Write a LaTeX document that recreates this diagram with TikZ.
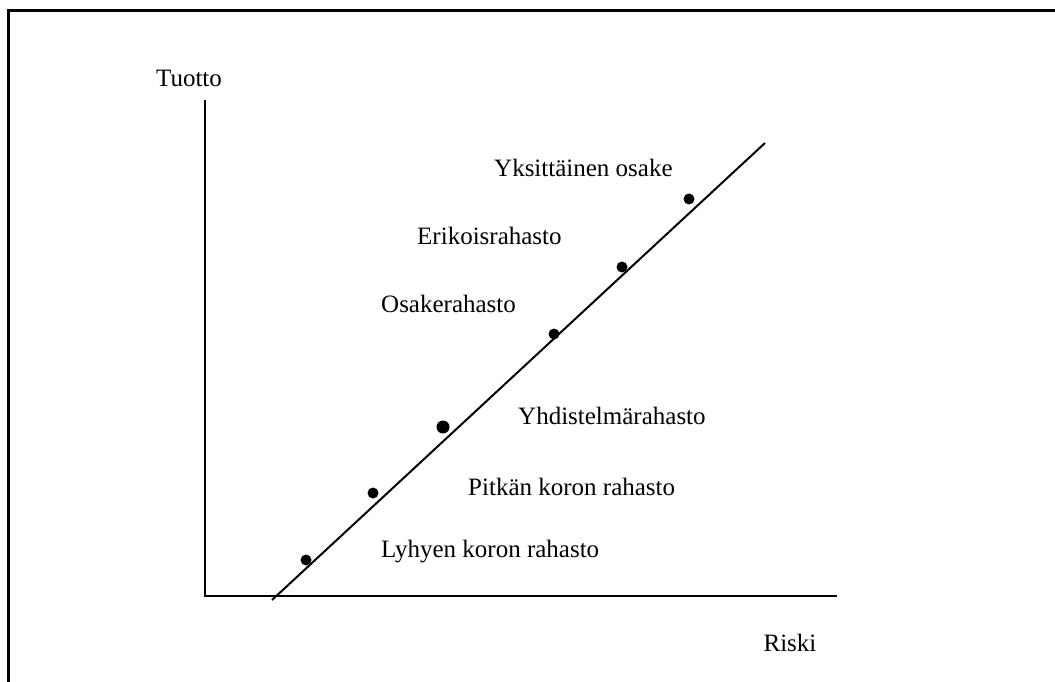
\documentclass[tikz,border=0pt]{standalone}
\usepackage{fontspec}
\setmainfont{Liberation Serif}
\begin{document}
\begin{tikzpicture}[x=1pt,y=-1pt,
  lbl/.style={font=\fontsize{25}{30}\selectfont, inner sep=0pt},
  pt/.style={circle, fill=black, inner sep=0pt, minimum size=11pt},
  ax/.style={line width=2pt}]
\useasboundingbox (0,0) rectangle (1055,682);
\draw[line width=3pt] (8,690) -- (8,11) -- (1060,11);
\coordinate (ytop) at (205,100);
\coordinate (o) at (205,596);
\coordinate (xend) at (837,596);
\draw[ax] (ytop) -- (o) -- (xend);
\coordinate (la) at (272,600);
\coordinate (lb) at (765,143);
\draw[ax] (la) -- (lb);
\node[pt] (p1) at (306,560) {};
\node[pt] (p2) at (373,493) {};
\node[pt, minimum size=13pt] (p3) at (443,427) {};
\node[pt] (p4) at (554,334) {};
\node[pt] (p5) at (622,267) {};
\node[pt] (p6) at (689,199) {};
\node[lbl] (tuotto) at (189,78) {Tuotto};
\node[lbl] (riski) at (790,643) {Riski};
\node[lbl, anchor=west] (t6) at (494,168) {Yksittäinen osake};
\node[lbl, anchor=west] (t5) at (417,236) {Erikoisrahasto};
\node[lbl, anchor=west] (t4) at (381,304) {Osakerahasto};
\node[lbl, anchor=west] (t3) at (518,416) {Yhdistelmärahasto};
\node[lbl, anchor=west] (t2) at (468,487) {Pitkän koron rahasto};
\node[lbl, anchor=west] (t1) at (381,552) {Lyhyen koron rahasto};
\end{tikzpicture}
\end{document}
